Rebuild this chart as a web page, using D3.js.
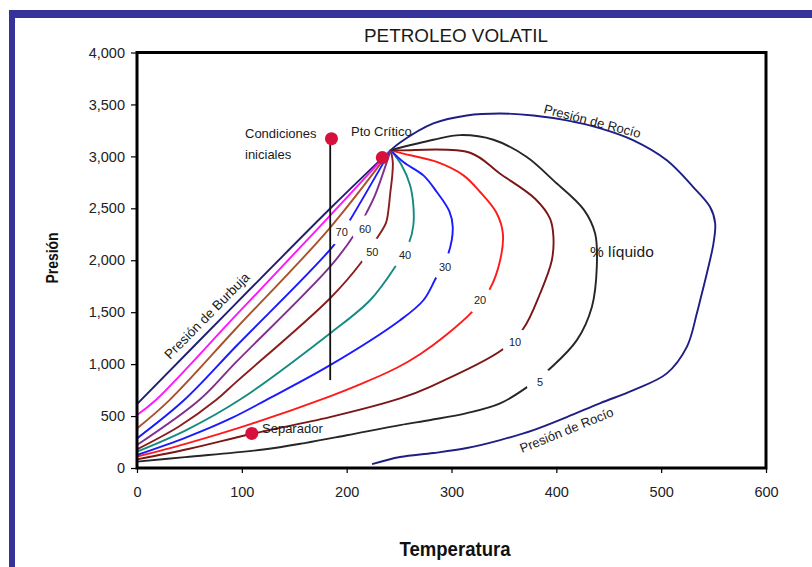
<!DOCTYPE html>
<html>
<head>
<meta charset="utf-8">
<script src="https://cdn.jsdelivr.net/npm/d3@7"></script>
<style>
  body { margin: 0; background: #fff; }
  svg { display: block; font-family: "Liberation Sans", Arial, sans-serif; }
</style>
</head>
<body>
<svg id="chart" width="812" height="567"></svg>
<script>
// Diagrama de fases presión–temperatura de un petróleo volátil

const xTicks = [0, 100, 200, 300, 400, 500, 600];
const yTicks = [0, 500, 1000, 1500, 2000, 2500, 3000, 3500, 4000];

// Curvas de calidad: [temperatura, presión]
const burbuja = [[0, 615], [94.5, 1585], [185, 2505], [242, 3060]];
const liq90 = [[0, 510], [18, 654], [94.5, 1471], [171, 2288], [242, 3060]];
const liq80 = [[0, 381], [31, 654], [94.5, 1343], [182, 2288], [242, 3060]];
const liq70 = [[0, 285], [45, 654], [94.5, 1172], [189, 2160], [202.5, 2375], [242, 3060]];
const liq60 = [[0, 221], [59.4, 654], [94.5, 1019], [184, 1936], [208, 2257], [219, 2459], [227, 2625], [242, 3060]];
const liq50 = [[0, 180], [40, 400], [75.4, 654], [94.5, 827], [184, 1632], [214, 1981], [229, 2214],
               [237.5, 2360], [240, 2497], [241.5, 2640], [243.5, 2817], [244, 2945], [242, 3060]];
const liq40 = [[0, 157], [47, 365], [97.6, 654], [184, 1295], [222.3, 1615], [246.2, 1936], [259.8, 2176],
               [263.6, 2337], [263.6, 2529], [260.5, 2721], [252.6, 2913], [242, 3060]];
const liq30 = [[0, 125], [47, 295], [90, 480], [123.1, 654], [184.2, 990], [251, 1423], [273.2, 1615],
               [284.4, 1814], [297, 2064], [301.2, 2320], [298, 2470], [286, 2657], [273.2, 2817],
               [254.1, 2945], [242, 3060]];
const liq20 = [[0, 109], [47, 235], [109, 425], [184, 690], [215, 815], [248, 965], [270, 1095],
               [295.5, 1285], [319.4, 1500], [336.8, 1728], [346.4, 2000], [349, 2257], [343, 2455],
               [327.3, 2657], [311.4, 2817], [286, 2946], [254, 3026], [242, 3060]];
const liq10 = [[0, 83], [50, 185], [110, 330], [184, 490], [251, 670], [279.6, 782], [348, 1135],
               [368.6, 1343], [384.5, 1680], [395.7, 2000], [397.2, 2230], [394, 2400], [380, 2590],
               [346.4, 2833], [317.7, 3035], [251, 3058], [242, 3060]];
const liq5 = [[0, 61], [46, 105], [120.5, 178], [160, 240], [200.1, 315], [251, 413], [280, 462],
              [314.6, 528], [346.4, 622], [373.4, 788], [394.1, 958], [419.6, 1231], [433.9, 1551],
              [438.6, 1936], [437, 2257], [426, 2490], [397.2, 2769], [371.8, 2994], [340, 3160],
              [308.2, 3205], [282.7, 3160], [242, 3060]];
const rocio = [[242, 3060], [251, 3134], [282.7, 3317], [314.6, 3394], [346.4, 3413], [378.2, 3394],
               [410, 3346], [442, 3269], [473.6, 3154], [505.4, 2962], [530.8, 2702], [546.8, 2510],
               [551.5, 2356], [549.9, 2163], [543.6, 1875], [537.2, 1615], [534, 1487], [524.5, 1166],
               [505.4, 911], [473.6, 750], [442, 625], [410, 490], [378.2, 365], [346.4, 269],
               [314.6, 192], [282.7, 144], [251, 106], [224.2, 38]];

// Etiquetas de porcentaje de líquido (centro en temperatura, presión)
const etiquetas = [
  { serie: "liq70", texto: "70", t: 195.3, p: 2272 },
  { serie: "liq60", texto: "60", t: 217.6, p: 2295 },
  { serie: "liq50", texto: "50", t: 224.5, p: 2080 },
  { serie: "liq40", texto: "40", t: 255.7, p: 2048 },
  { serie: "liq30", texto: "30", t: 293.9, p: 1936 },
  { serie: "liq20", texto: "20", t: 327.3, p: 1615 },
  { serie: "liq10", texto: "10", t: 360.7, p: 1214 },
  { serie: "liq5",  texto: "5",  t: 384.5, p: 830 }
];

// Puntos destacados
const puntos = [
  { nombre: "Condiciones iniciales", t: 185.5, p: 3170 },
  { nombre: "Pto Crítico", t: 234, p: 2988 },
  { nombre: "Separador", t: 109.5, p: 333 }
];
// Trayectoria de agotamiento isotérmico
const agotamiento = [[184.3, 3170], [184.3, 846]];

const series = [
  { id: "burbuja", valores: burbuja },
  { id: "liq90", valores: liq90 },
  { id: "liq80", valores: liq80 },
  { id: "liq70", valores: liq70 },
  { id: "liq60", valores: liq60 },
  { id: "liq50", valores: liq50 },
  { id: "liq40", valores: liq40 },
  { id: "liq30", valores: liq30 },
  { id: "liq20", valores: liq20 },
  { id: "liq10", valores: liq10 },
  { id: "liq5", valores: liq5 },
  { id: "rocio", valores: rocio }
];

const colores = {
  burbuja: "#1f1f70", liq90: "#ff14ff", liq80: "#a8522a", liq70: "#1a1aff",
  liq60: "#80308c", liq50: "#8a1d1d", liq40: "#168a82", liq30: "#1a1aff",
  liq20: "#ff1a1a", liq10: "#7a1616", liq5: "#262626", rocio: "#1e1e86"
};

const svg = d3.select("#chart");
const W = 812, H = 567;

svg.append("rect").attr("width", W).attr("height", H).attr("fill", "#fff");
// Marco azul de la diapositiva
svg.append("rect").attr("x", 9).attr("y", 10).attr("width", W - 9).attr("height", 8).attr("fill", "#333399");
svg.append("rect").attr("x", 9).attr("y", 10).attr("width", 6).attr("height", H - 10).attr("fill", "#333399");

const x = d3.scaleLinear().domain([0, 600]).range([137, 766]);
const y = d3.scaleLinear().domain([0, 4000]).range([468, 52.5]);

// Ejes
const yAxis = d3.axisLeft(y).tickValues(yTicks).tickFormat(d3.format(",")).tickSize(6).tickPadding(6);
const xAxis = d3.axisBottom(x).tickValues(xTicks).tickFormat(d3.format("d")).tickSize(5).tickPadding(14);

const gy = svg.append("g").attr("transform", `translate(${x(0)},0)`).call(yAxis);
const gx = svg.append("g").attr("transform", `translate(0,${y(0)})`).call(xAxis);
[gx, gy].forEach(g => {
  g.select(".domain").remove();
  g.selectAll(".tick line").attr("stroke", "#000").attr("stroke-width", 1.2);
  g.selectAll(".tick text").attr("fill", "#222").attr("font-size", 14.5)
    .attr("font-family", "\"Liberation Sans\", Arial, sans-serif");
});

// Máscaras que abren un hueco en cada curva donde va su etiqueta
const defs = svg.append("defs");
etiquetas.forEach(e => {
  const m = defs.append("mask").attr("id", "m-" + e.serie).attr("maskUnits", "userSpaceOnUse")
    .attr("x", 0).attr("y", 0).attr("width", W).attr("height", H);
  m.append("rect").attr("width", W).attr("height", H).attr("fill", "#fff");
  m.append("circle").attr("cx", x(e.t)).attr("cy", y(e.p)).attr("r", 14).attr("fill", "#000");
});

const linea = d3.line()
  .x(d => x(d[0])).y(d => y(d[1]))
  .curve(d3.curveCatmullRom.alpha(0.5));

const conEtiqueta = new Set(etiquetas.map(e => e.serie));
svg.append("g").selectAll("path").data(series).join("path")
  .attr("d", d => linea(d.valores))
  .attr("fill", "none")
  .attr("stroke", d => colores[d.id])
  .attr("stroke-width", 1.9)
  .attr("stroke-linejoin", "round")
  .attr("mask", d => conEtiqueta.has(d.id) ? `url(#m-${d.id})` : null);

// Números de porcentaje
svg.append("g").selectAll("text").data(etiquetas).join("text")
  .attr("x", d => x(d.t)).attr("y", d => y(d.p))
  .attr("dy", "0.35em").attr("text-anchor", "middle")
  .attr("font-size", 11).attr("fill", "#222")
  .text(d => d.texto);

// Línea vertical de agotamiento
svg.append("path")
  .attr("d", d3.line().x(d => x(d[0])).y(d => y(d[1]))(agotamiento))
  .attr("stroke", "#111").attr("stroke-width", 1.8).attr("fill", "none");

// Puntos
svg.append("g").selectAll("circle").data(puntos).join("circle")
  .attr("cx", d => x(d.t)).attr("cy", d => y(d.p)).attr("r", 6.5)
  .attr("fill", "#d8103c");

// Textos del diagrama
const txt = (s, xx, yy, size) =>
  svg.append("text").attr("x", xx).attr("y", yy).attr("font-size", size).attr("fill", "#1a1a1a").text(s);
txt("Condiciones", 245, 138, 13);
txt("iniciales", 245, 159, 13);
txt("Pto Crítico", 351, 136, 13);
txt("Separador", 262, 433, 13);
txt("% líquido", 590, 257, 15.5);

svg.append("text").attr("transform", "translate(170,360) rotate(-45.5)")
  .attr("font-size", 13.5).attr("fill", "#1a1a1a").text("Presión de Burbuja");
svg.append("text").attr("transform", "translate(543,113) rotate(14.5)")
  .attr("font-size", 13).attr("fill", "#1a1a1a").text("Presión de Rocío");
svg.append("text").attr("transform", "translate(522,453) rotate(-22)")
  .attr("font-size", 13).attr("fill", "#1a1a1a").text("Presión de Rocío");

// Título y nombres de ejes
svg.append("text").attr("x", 456).attr("y", 42).attr("text-anchor", "middle")
  .attr("font-size", 18).attr("textLength", 184).attr("lengthAdjust", "spacingAndGlyphs")
  .attr("fill", "#1a1a1a").text("PETROLEO VOLATIL");
svg.append("text").attr("transform", "translate(58,258) rotate(-90)").attr("text-anchor", "middle")
  .attr("font-size", 16).attr("textLength", 51).attr("lengthAdjust", "spacingAndGlyphs")
  .attr("font-weight", "bold").attr("fill", "#111").text("Presión");
svg.append("text").attr("x", 455).attr("y", 556).attr("text-anchor", "middle")
  .attr("font-size", 20).attr("textLength", 111).attr("lengthAdjust", "spacingAndGlyphs")
  .attr("font-weight", "bold").attr("fill", "#111").text("Temperatura");

// Marco del área de trazado
svg.append("rect")
  .attr("x", x(0)).attr("y", y(4000)).attr("width", x(600) - x(0)).attr("height", y(0) - y(4000))
  .attr("fill", "none").attr("stroke", "#000").attr("stroke-width", 3);
</script>
</body>
</html>
